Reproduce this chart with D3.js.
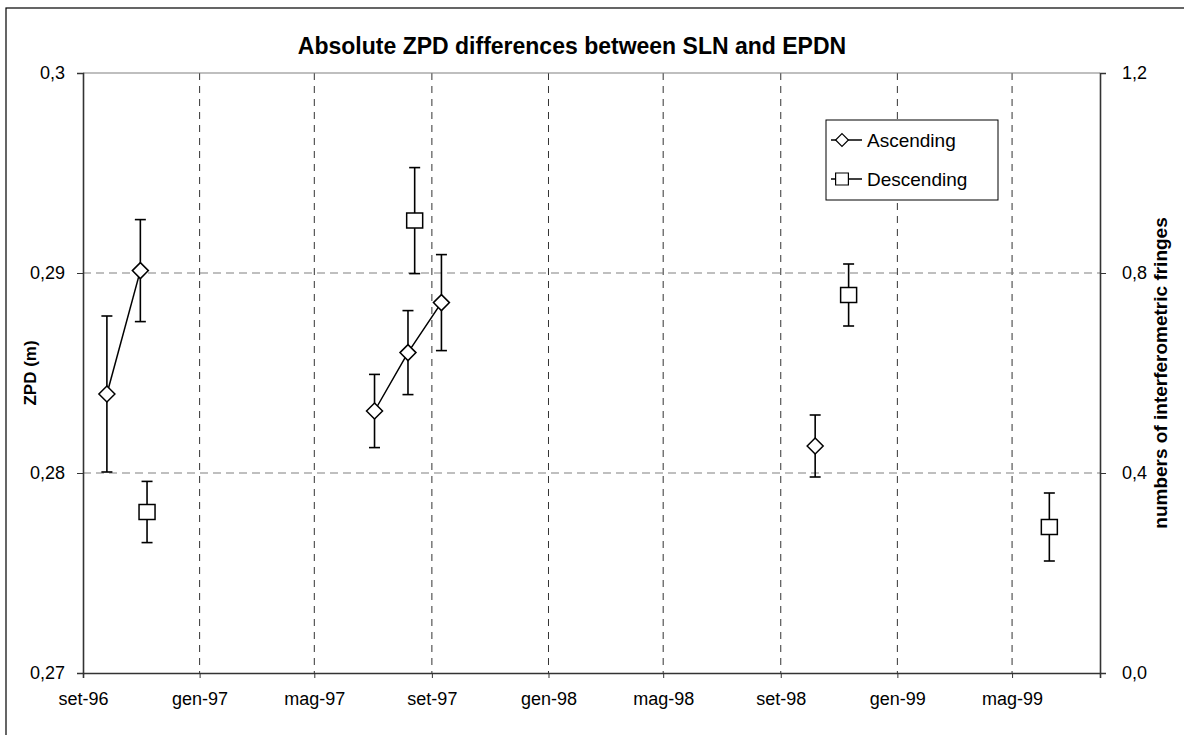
<!DOCTYPE html>
<html>
<head>
<meta charset="utf-8">
<script src="https://cdn.jsdelivr.net/npm/d3@7"></script>
<style>
  body { margin: 0; background: #fff; }
  svg { font-family: "Liberation Sans", Arial, sans-serif; }
</style>
</head>
<body>
<div id="chart"></div>
<script>
// Ascending passes: date, ZPD difference, error, connected run
const ascDates = ["1996-09-26", "1996-10-31", "1997-07-03", "1997-08-07", "1997-09-11", "1998-10-07"];
const ascZpd = [0.28395, 0.29012, 0.28310, 0.28602, 0.28852, 0.28135];
const ascErr = [0.0039, 0.00255, 0.00183, 0.0021, 0.0024, 0.00155];
const ascRun = [0, 0, 1, 1, 1, 2];

// Descending passes
const dscDates = ["1996-11-07", "1997-08-14", "1998-11-11", "1999-06-09"];
const dscZpd = [0.27805, 0.29262, 0.2889, 0.2773];
const dscErr = [0.00153, 0.00265, 0.00155, 0.0017];
const dscRun = [0, 1, 2, 3];

const xTickDates = ["1996-09-01", "1997-01-01", "1997-05-01", "1997-09-01", "1998-01-01", "1998-05-01", "1998-09-01", "1999-01-01", "1999-05-01"];
const xTickLabels = ["set-96", "gen-97", "mag-97", "set-97", "gen-98", "mag-98", "set-98", "gen-99", "mag-99"];
const yTicks = [0.27, 0.28, 0.29, 0.3];
const yTickLabels = ["0,27", "0,28", "0,29", "0,3"];
const y2Ticks = [0, 0.4, 0.8, 1.2];
const y2TickLabels = ["0,0", "0,4", "0,8", "1,2"];

const W = 1184, H = 735;
const margin = {top: 73, right: 84, bottom: 62, left: 83};
const width = W - margin.left - margin.right;
const height = H - margin.top - margin.bottom;

const parse = d3.timeParse("%Y-%m-%d");

const svg = d3.select("#chart").append("svg")
    .attr("width", W)
    .attr("height", H);

// outer chart frame (runs off the right and bottom of the picture)
svg.append("rect")
    .attr("x", 6).attr("y", 8)
    .attr("width", W).attr("height", H)
    .attr("fill", "none")
    .attr("stroke", "#000")
    .attr("stroke-width", 1.2);

const g = svg.append("g")
    .attr("transform", `translate(${margin.left},${margin.top})`);

const x = d3.scaleTime()
    .domain([parse("1996-09-01"), parse("1999-08-01")])
    .range([0, width]);
const y = d3.scaleLinear().domain([0.27, 0.3]).range([height, 0]);
const y2 = d3.scaleLinear().domain([0, 1.2]).range([height, 0]);

// gridlines
g.selectAll(".vgrid")
    .data(xTickDates.slice(1).map(parse))
    .enter().append("line")
    .attr("x1", d => x(d)).attr("x2", d => x(d))
    .attr("y1", 0).attr("y2", height)
    .attr("stroke", "#333")
    .attr("stroke-width", 1)
    .attr("stroke-dasharray", "7,6");

g.selectAll(".hgrid")
    .data([0.28, 0.29])
    .enter().append("line")
    .attr("x1", 0).attr("x2", width)
    .attr("y1", d => y(d)).attr("y2", d => y(d))
    .attr("stroke", "#808080")
    .attr("stroke-width", 1.2)
    .attr("stroke-dasharray", "8,5");

g.append("line")
    .attr("x1", 0).attr("x2", width)
    .attr("y1", y(0.3)).attr("y2", y(0.3))
    .attr("stroke", "#808080")
    .attr("stroke-width", 1.2);

// axes
const xAxis = g.append("g")
    .attr("transform", `translate(0,${height})`)
    .call(d3.axisBottom(x)
        .tickValues(xTickDates.map(parse))
        .tickFormat((d, i) => xTickLabels[i])
        .tickSizeOuter(0).tickSize(5).tickPadding(14));

const yAxis = g.append("g")
    .call(d3.axisLeft(y)
        .tickValues(yTicks)
        .tickFormat((d, i) => yTickLabels[i])
        .tickSizeOuter(0).tickSize(6).tickPadding(12));

const y2Axis = g.append("g")
    .attr("transform", `translate(${width},0)`)
    .call(d3.axisRight(y2)
        .tickValues(y2Ticks)
        .tickFormat((d, i) => y2TickLabels[i])
        .tickSizeOuter(0).tickSize(6).tickPadding(16));

[xAxis, yAxis, y2Axis].forEach(a => {
    a.selectAll("text")
        .style("font-family", "'Liberation Sans', Arial, sans-serif")
        .style("font-size", "18px")
        .attr("fill", "#000");
    a.selectAll("line").attr("stroke", "#333");
    a.select(".domain").attr("stroke", "#333").attr("stroke-width", 1.6);
});

// series
const asc = ascDates.map((d, i) => ({date: parse(d), v: ascZpd[i], e: ascErr[i], run: ascRun[i]}));
const dsc = dscDates.map((d, i) => ({date: parse(d), v: dscZpd[i], e: dscErr[i], run: dscRun[i]}));

const line = d3.line().x(d => x(d.date)).y(d => y(d.v));

d3.groups(asc, d => d.run).forEach(([run, pts]) => {
    g.append("path")
        .datum(pts)
        .attr("d", line)
        .attr("fill", "none")
        .attr("stroke", "#000")
        .attr("stroke-width", 1.5);
});

function errorBars(data) {
    const eb = g.append("g").attr("stroke", "#000").attr("stroke-width", 1.6);
    data.forEach(d => {
        const cx = x(d.date);
        eb.append("line")
            .attr("x1", cx).attr("x2", cx)
            .attr("y1", y(d.v + d.e)).attr("y2", y(d.v - d.e));
        [d.v + d.e, d.v - d.e].forEach(v => {
            eb.append("line")
                .attr("x1", cx - 5.5).attr("x2", cx + 5.5)
                .attr("y1", y(v)).attr("y2", y(v));
        });
    });
}
errorBars(asc);
errorBars(dsc);

const diamond = "M0,-8L8,0L0,8L-8,0Z";
const square = "M-8,-7.5H8V7.5H-8Z";

g.selectAll(".asc")
    .data(asc)
    .enter().append("path")
    .attr("class", "asc")
    .attr("transform", d => `translate(${x(d.date)},${y(d.v)})`)
    .attr("d", diamond)
    .attr("fill", "#fff")
    .attr("stroke", "#000")
    .attr("stroke-width", 1.5);

g.selectAll(".dsc")
    .data(dsc)
    .enter().append("path")
    .attr("class", "dsc")
    .attr("transform", d => `translate(${x(d.date)},${y(d.v)})`)
    .attr("d", square)
    .attr("fill", "#fff")
    .attr("stroke", "#000")
    .attr("stroke-width", 1.5);

// title and axis titles
svg.append("text")
    .attr("x", 572).attr("y", 54)
    .attr("text-anchor", "middle")
    .style("font-size", "23px")
    .style("font-weight", "bold")
    .text("Absolute ZPD differences between SLN and EPDN");

svg.append("text")
    .attr("transform", `translate(36,${margin.top + height / 2}) rotate(-90)`)
    .attr("text-anchor", "middle")
    .style("font-size", "17px")
    .style("font-weight", "bold")
    .text("ZPD (m)");

svg.append("text")
    .attr("transform", `translate(1167,${margin.top + height / 2}) rotate(-90)`)
    .attr("text-anchor", "middle")
    .style("font-size", "19px")
    .style("font-weight", "bold")
    .text("numbers of interferometric fringes");

// legend
const legend = svg.append("g").attr("transform", "translate(826,120)");
legend.append("rect")
    .attr("width", 172).attr("height", 80)
    .attr("fill", "#fff")
    .attr("stroke", "#000")
    .attr("stroke-width", 1);

[["Ascending", diamond], ["Descending", square]].forEach(([name, sym], i) => {
    const ly = 20 + i * 39;
    legend.append("line")
        .attr("x1", 5).attr("x2", 36)
        .attr("y1", ly).attr("y2", ly)
        .attr("stroke", "#000").attr("stroke-width", 1.5);
    legend.append("path")
        .attr("d", sym)
        .attr("transform", `translate(16,${ly}) scale(0.8)`)
        .attr("fill", "#fff")
        .attr("stroke", "#000")
        .attr("stroke-width", 1.5);
    legend.append("text")
        .attr("x", 41).attr("y", ly + 7)
        .style("font-size", "19px")
        .text(name);
});
</script>
</body>
</html>
